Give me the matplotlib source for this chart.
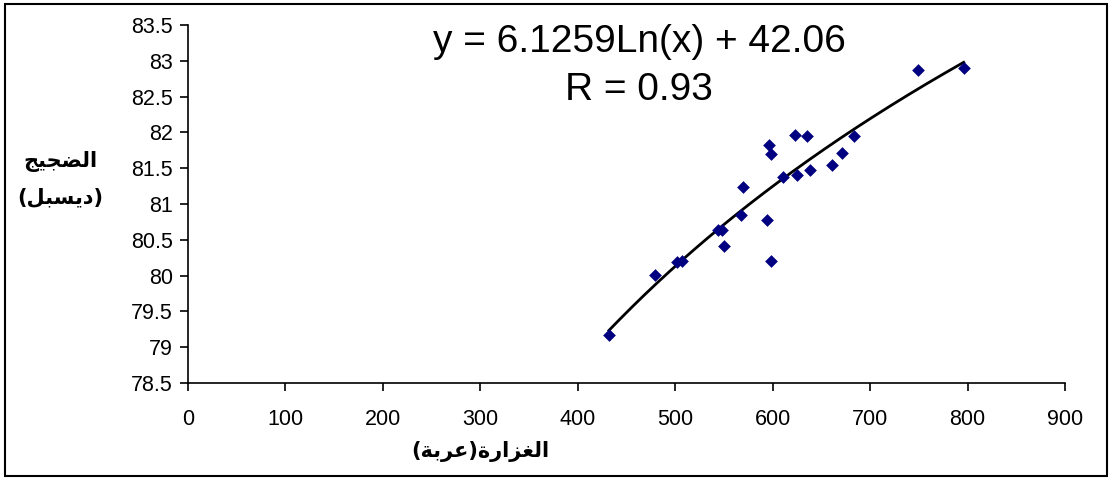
import matplotlib
matplotlib.use("Agg")
import matplotlib.pyplot as plt
import numpy as np
from matplotlib.patches import Rectangle

# Data
flow = [432, 479, 502, 507, 544, 548, 550, 567, 570, 594, 598, 596, 598,
        611, 625, 623, 635, 638, 661, 671, 683, 749, 796]
noise = [79.17, 80.01, 80.19, 80.21, 80.63, 80.64, 80.41, 80.85, 81.24, 80.78,
         80.20, 81.82, 81.70, 81.38, 81.40, 81.97, 81.95, 81.47, 81.55, 81.71,
         81.95, 82.87, 82.90]
coef_a = 6.1259
coef_b = 42.06
r_value = 0.93

x_ticks = [0, 100, 200, 300, 400, 500, 600, 700, 800, 900]
y_ticks = [78.5, 79, 79.5, 80, 80.5, 81, 81.5, 82, 82.5, 83, 83.5]

x_label = "الغزارة(عربة)"
y_label_1 = "الضجيج"
y_label_2 = "(ديسبل)"

# minimal Arabic shaping (matplotlib has no complex text layout)
# isolated, final, initial, medial
FORMS = {
    "ا": ("\uFE8D", "\uFE8E", None, None),
    "ب": ("\uFE8F", "\uFE90", "\uFE91", "\uFE92"),
    "ة": ("\uFE93", "\uFE94", None, None),
    "ج": ("\uFE9D", "\uFE9E", "\uFE9F", "\uFEA0"),
    "د": ("\uFEA9", "\uFEAA", None, None),
    "ر": ("\uFEAD", "\uFEAE", None, None),
    "ز": ("\uFEAF", "\uFEB0", None, None),
    "س": ("\uFEB1", "\uFEB2", "\uFEB3", "\uFEB4"),
    "ض": ("\uFEBD", "\uFEBE", "\uFEBF", "\uFEC0"),
    "ع": ("\uFEC9", "\uFECA", "\uFECB", "\uFECC"),
    "غ": ("\uFECD", "\uFECE", "\uFECF", "\uFED0"),
    "ل": ("\uFEDD", "\uFEDE", "\uFEDF", "\uFEE0"),
    "ي": ("\uFEF1", "\uFEF2", "\uFEF3", "\uFEF4"),
}


def shape(text):
    out = []
    for i, ch in enumerate(text):
        if ch not in FORMS:
            out.append(ch)
            continue
        prev = text[i - 1] if i > 0 else ""
        nxt = text[i + 1] if i < len(text) - 1 else ""
        j_prev = prev in FORMS and FORMS[prev][2] is not None
        j_next = FORMS[ch][2] is not None and nxt in FORMS
        iso, fin, ini, med = FORMS[ch]
        if j_prev and j_next:
            out.append(med)
        elif j_prev:
            out.append(fin)
        elif j_next:
            out.append(ini)
        else:
            out.append(iso)
    vis = "".join(reversed(out))
    return vis.translate(str.maketrans("()", ")("))


fig = plt.figure(figsize=(11.12, 4.78), dpi=100)
ax = fig.add_axes([188 / 1112, 1 - 383 / 478, (1065 - 188) / 1112, (383 - 25) / 478])

ax.scatter(flow, noise, marker="D", s=42, color="#000080", zorder=3, linewidths=0)

xs = np.linspace(min(flow), max(flow), 200)
ax.plot(xs, coef_a * np.log(xs) + coef_b, color="black", lw=2, zorder=2)

ax.set_xlim(0, 900)
ax.set_ylim(78.5, 83.5)
ax.set_xticks(x_ticks)
ax.set_yticks(y_ticks)
ax.set_yticklabels([f"{v:g}" for v in y_ticks])
for s in ["top", "right"]:
    ax.spines[s].set_visible(False)
for s in ["left", "bottom"]:
    ax.spines[s].set_linewidth(1.2)
ax.tick_params(axis="both", direction="out", length=6, width=1.2,
               labelsize=15.5, labelfontfamily="Liberation Sans")
ax.tick_params(axis="x", pad=13)
ax.tick_params(axis="y", pad=5)

fig.text(639 / 1112, 1 - 42 / 478, f"y = {coef_a}Ln(x) + {coef_b}",
         ha="center", va="center", fontsize=28, family="Liberation Sans")
fig.text(639 / 1112, 1 - 90 / 478, f"R = {r_value}",
         ha="center", va="center", fontsize=28, family="Liberation Sans")

fig.text(480 / 1112, 1 - 452 / 478, shape(x_label), ha="center", va="center",
         fontsize=15, fontweight="bold", family="DejaVu Sans")
fig.text(60 / 1112, 1 - 162 / 478, shape(y_label_1), ha="center", va="center",
         fontsize=15, fontweight="bold", family="DejaVu Sans")
fig.text(60 / 1112, 1 - 197 / 478, shape(y_label_2), ha="center", va="center",
         fontsize=15, fontweight="bold", family="DejaVu Sans")

fig.patches.append(Rectangle((5 / 1112, 2 / 478), 1102 / 1112, 472 / 478,
                             transform=fig.transFigure, fill=False,
                             edgecolor="black", lw=1.5))

fig.savefig("out.png", dpi=100)
